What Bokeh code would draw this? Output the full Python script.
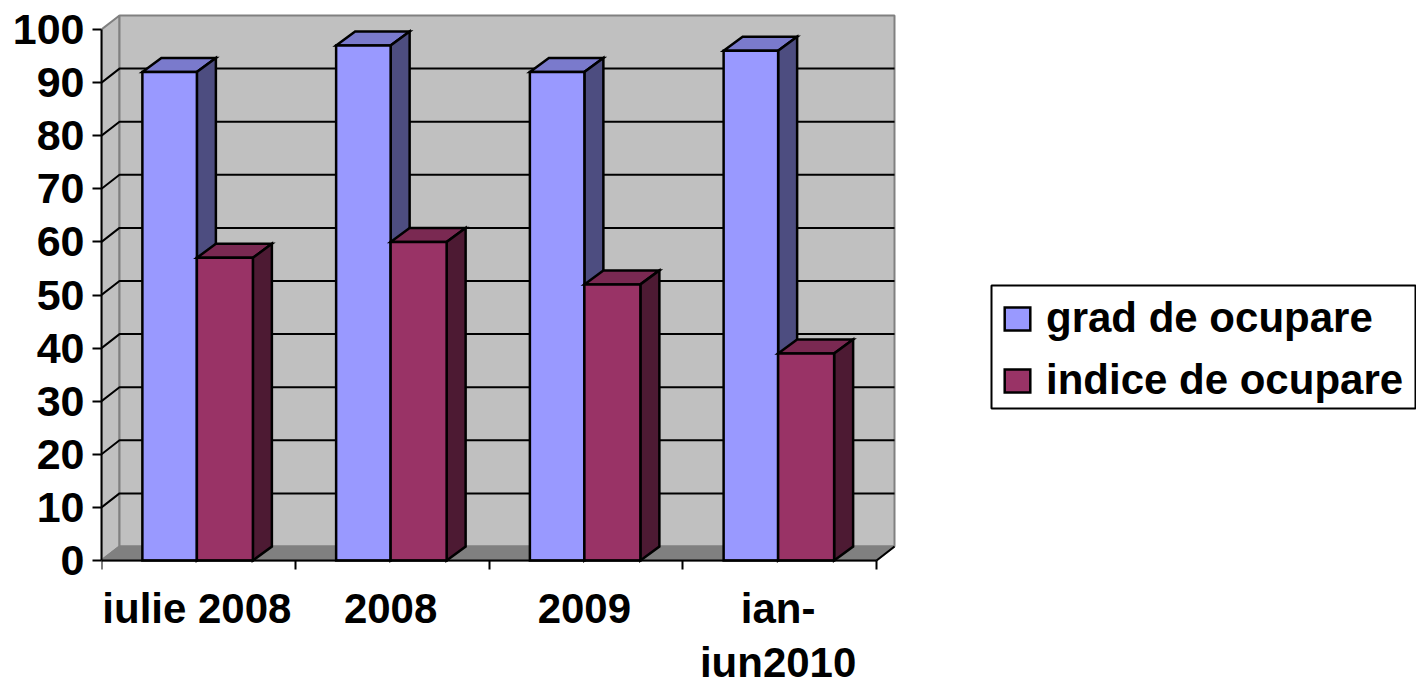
from bokeh.plotting import figure
from bokeh.embed import file_html
from bokeh.resources import INLINE
from bokeh.models import FixedTicker, Legend, LegendItem, BoxAnnotation, Range1d, LinearAxis

categories = ["iulie 2008", "2008", "2009", "ian-\niun2010"]
grad_de_ocupare = [92, 97, 92, 96]
indice_de_ocupare = [57, 60, 52, 39]
y_ticks = [0, 10, 20, 30, 40, 50, 60, 70, 80, 90, 100]
series_names = ["grad de ocupare", "indice de ocupare"]

FONT = "Liberation Sans"
W, H = 1416, 683
PX_X = 193.75      # pixels per category
PX_Y = 5.31        # pixels per value unit
LEFT, BOTTOM = 101, 123
DX = 18 / PX_X     # oblique depth of the walls in data units
DY = 14 / PX_Y
BDX = 19 / PX_X    # oblique depth of the bars
SHIFT = 1.5 / PX_X
BW1 = 54.5 / PX_X
BW2 = 56 / PX_X
LW = 2.5

# The frame runs to the canvas bottom; the x axis sits at y=0 inside it so its labels are not clipped.
p = figure(width=W, height=H, output_backend="svg", toolbar_location=None,
           x_axis_type=None, y_axis_type=None,
           min_border_left=LEFT, min_border_bottom=0, min_border_top=0, min_border_right=0,
           x_range=Range1d(0, (W - LEFT) / PX_X), y_range=Range1d(-BOTTOM / PX_Y, (H - BOTTOM) / PX_Y),
           outline_line_color=None, background_fill_color="white")
p.grid.visible = False

n = len(categories)
ymax = max(y_ticks)
WALL = "#C0C0C0"
EDGE = "#808080"

# side wall, back wall, floor
p.patch([0, DX, DX, 0], [0, DY, ymax + DY, ymax], fill_color=WALL, line_color=EDGE, line_width=2)
p.patch([DX, n + DX, n + DX, DX], [DY, DY, ymax + DY, ymax + DY], fill_color=WALL, line_color=EDGE, line_width=2)
p.patch([0, n, n + DX, DX], [0, 0, DY, DY], fill_color=EDGE, line_color=EDGE, line_width=2)
p.line([n, n + DX], [0, DY], line_color="black", line_width=2)

# gridlines across both walls
grid = [t for t in y_ticks if 0 < t < ymax]
p.multi_line([[0, DX, n + DX] for _ in grid], [[t, t + DY, t + DY] for t in grid],
             line_color="black", line_width=2)


def bar(left, width, val, front, top, side):
    r = left + width
    p.patch([left, r, r + BDX, left + BDX], [val, val, val + DY, val + DY],
            fill_color=top, line_color="black", line_width=LW, line_join="miter")
    p.patch([r, r + BDX, r + BDX, r], [0, DY, val + DY, val],
            fill_color=side, line_color="black", line_width=LW, line_join="miter")
    return p.quad(left=[left], right=[r], bottom=[0], top=[val],
                  fill_color=front, line_color="black", line_width=LW, line_join="miter")


r1 = r2 = None
for i in range(n):
    c = i + 0.5 - SHIFT
    r1 = bar(c - BW1, BW1, grad_de_ocupare[i], "#9999FF", "#7A7ACC", "#4D4D80")
    r2 = bar(c, BW2, indice_de_ocupare[i], "#993366", "#7A2952", "#4D1A33")

# axes
yax = LinearAxis(ticker=FixedTicker(ticks=y_ticks), bounds=(0, ymax),
                 major_tick_in=0, major_tick_out=9, minor_tick_out=0, minor_tick_in=0,
                 major_tick_line_width=2, major_tick_line_color="black",
                 axis_line_color="black", axis_line_width=2,
                 major_label_standoff=8, major_label_text_font=FONT,
                 major_label_text_font_style="bold", major_label_text_font_size="43px",
                 major_label_text_color="black")
p.add_layout(yax, "left")

label_pos = [i + 0.5 - SHIFT for i in range(n)]
xax = LinearAxis(ticker=FixedTicker(ticks=label_pos, minor_ticks=list(range(n + 1))),
                 bounds=(0, n), fixed_location=0,
                 major_label_overrides=dict(zip(label_pos, categories)),
                 major_tick_in=0, major_tick_out=0, minor_tick_in=0, minor_tick_out=9,
                 minor_tick_line_width=2, minor_tick_line_color="black",
                 axis_line_color="black", axis_line_width=2,
                 major_label_standoff=15, major_label_text_font=FONT,
                 major_label_text_font_style="bold", major_label_text_font_size="42px",
                 major_label_text_color="black", major_label_text_line_height=1.17)
p.add_layout(xax, "below")

frame_box = BoxAnnotation(left=890, right=1314, top=275 + BOTTOM, bottom=152 + BOTTOM,
                          left_units="screen", right_units="screen", top_units="screen", bottom_units="screen",
                          fill_alpha=0, line_color="black", line_alpha=1, line_width=2)
p.add_layout(frame_box)

legend = Legend(items=[LegendItem(label=series_names[0], renderers=[r1]),
                       LegendItem(label=series_names[1], renderers=[r2])],
                location=(900, 156 + BOTTOM), orientation="vertical",
                label_text_font=FONT, label_text_font_style="bold", label_text_font_size="42px",
                label_text_color="black", glyph_width=32, glyph_height=29, label_standoff=13,
                padding=12, spacing=14, margin=0,
                border_line_color=None, background_fill_alpha=0)
p.add_layout(legend)

open("out.html", "w").write(file_html(p, INLINE))
